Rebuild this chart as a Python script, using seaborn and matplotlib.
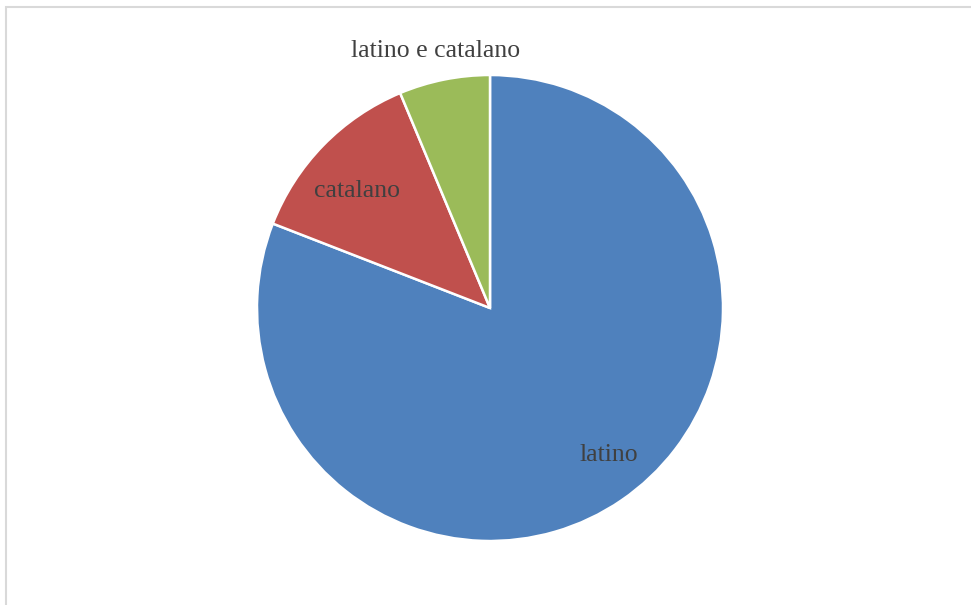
import numpy as np
import matplotlib
matplotlib.use('Agg')
import matplotlib.pyplot as plt
import seaborn as sns
from matplotlib.patches import Rectangle

# data
labels = ['latino', 'catalano', 'latino e catalano']
values = [80.9, 12.8, 6.3]
colors = ['#4F81BD', '#C0504D', '#9BBB59']

# label placement (distance from centre in radii, angle shift in degrees)
label_dist = [0.81, 0.76, 1.13]
label_shift = [4.5, 3.1, 0.7]

sns.set_theme(style='white')
plt.rcParams['font.family'] = ['Liberation Serif', 'DejaVu Serif']

fig = plt.figure(figsize=(9.71, 6.05), dpi=100)
# chart frame (light grey border, left and top visible)
fig.patches.append(Rectangle((6 / 971, -0.01), 1.0, (598 / 605) + 0.01, transform=fig.transFigure,
                             fill=False, edgecolor='#D9D9D9', linewidth=1.5))

ax = fig.add_axes([257 / 971, 64 / 605, 466 / 971, 466 / 605])
wedges, _ = ax.pie(values, colors=colors, startangle=90, counterclock=False,
                   radius=1.0, labels=None,
                   wedgeprops=dict(edgecolor='white', linewidth=1.8))
ax.set_xlim(-1, 1)
ax.set_ylim(-1, 1)
ax.set_aspect('equal')
ax.axis('off')

for w, lab, d, s in zip(wedges, labels, label_dist, label_shift):
    ang = np.deg2rad((w.theta1 + w.theta2) / 2 + s)
    ax.text(d * np.cos(ang), d * np.sin(ang), lab, ha='center', va='center',
            fontsize=18.5, color='#404040', clip_on=False)

fig.savefig('out.png', dpi=100)
